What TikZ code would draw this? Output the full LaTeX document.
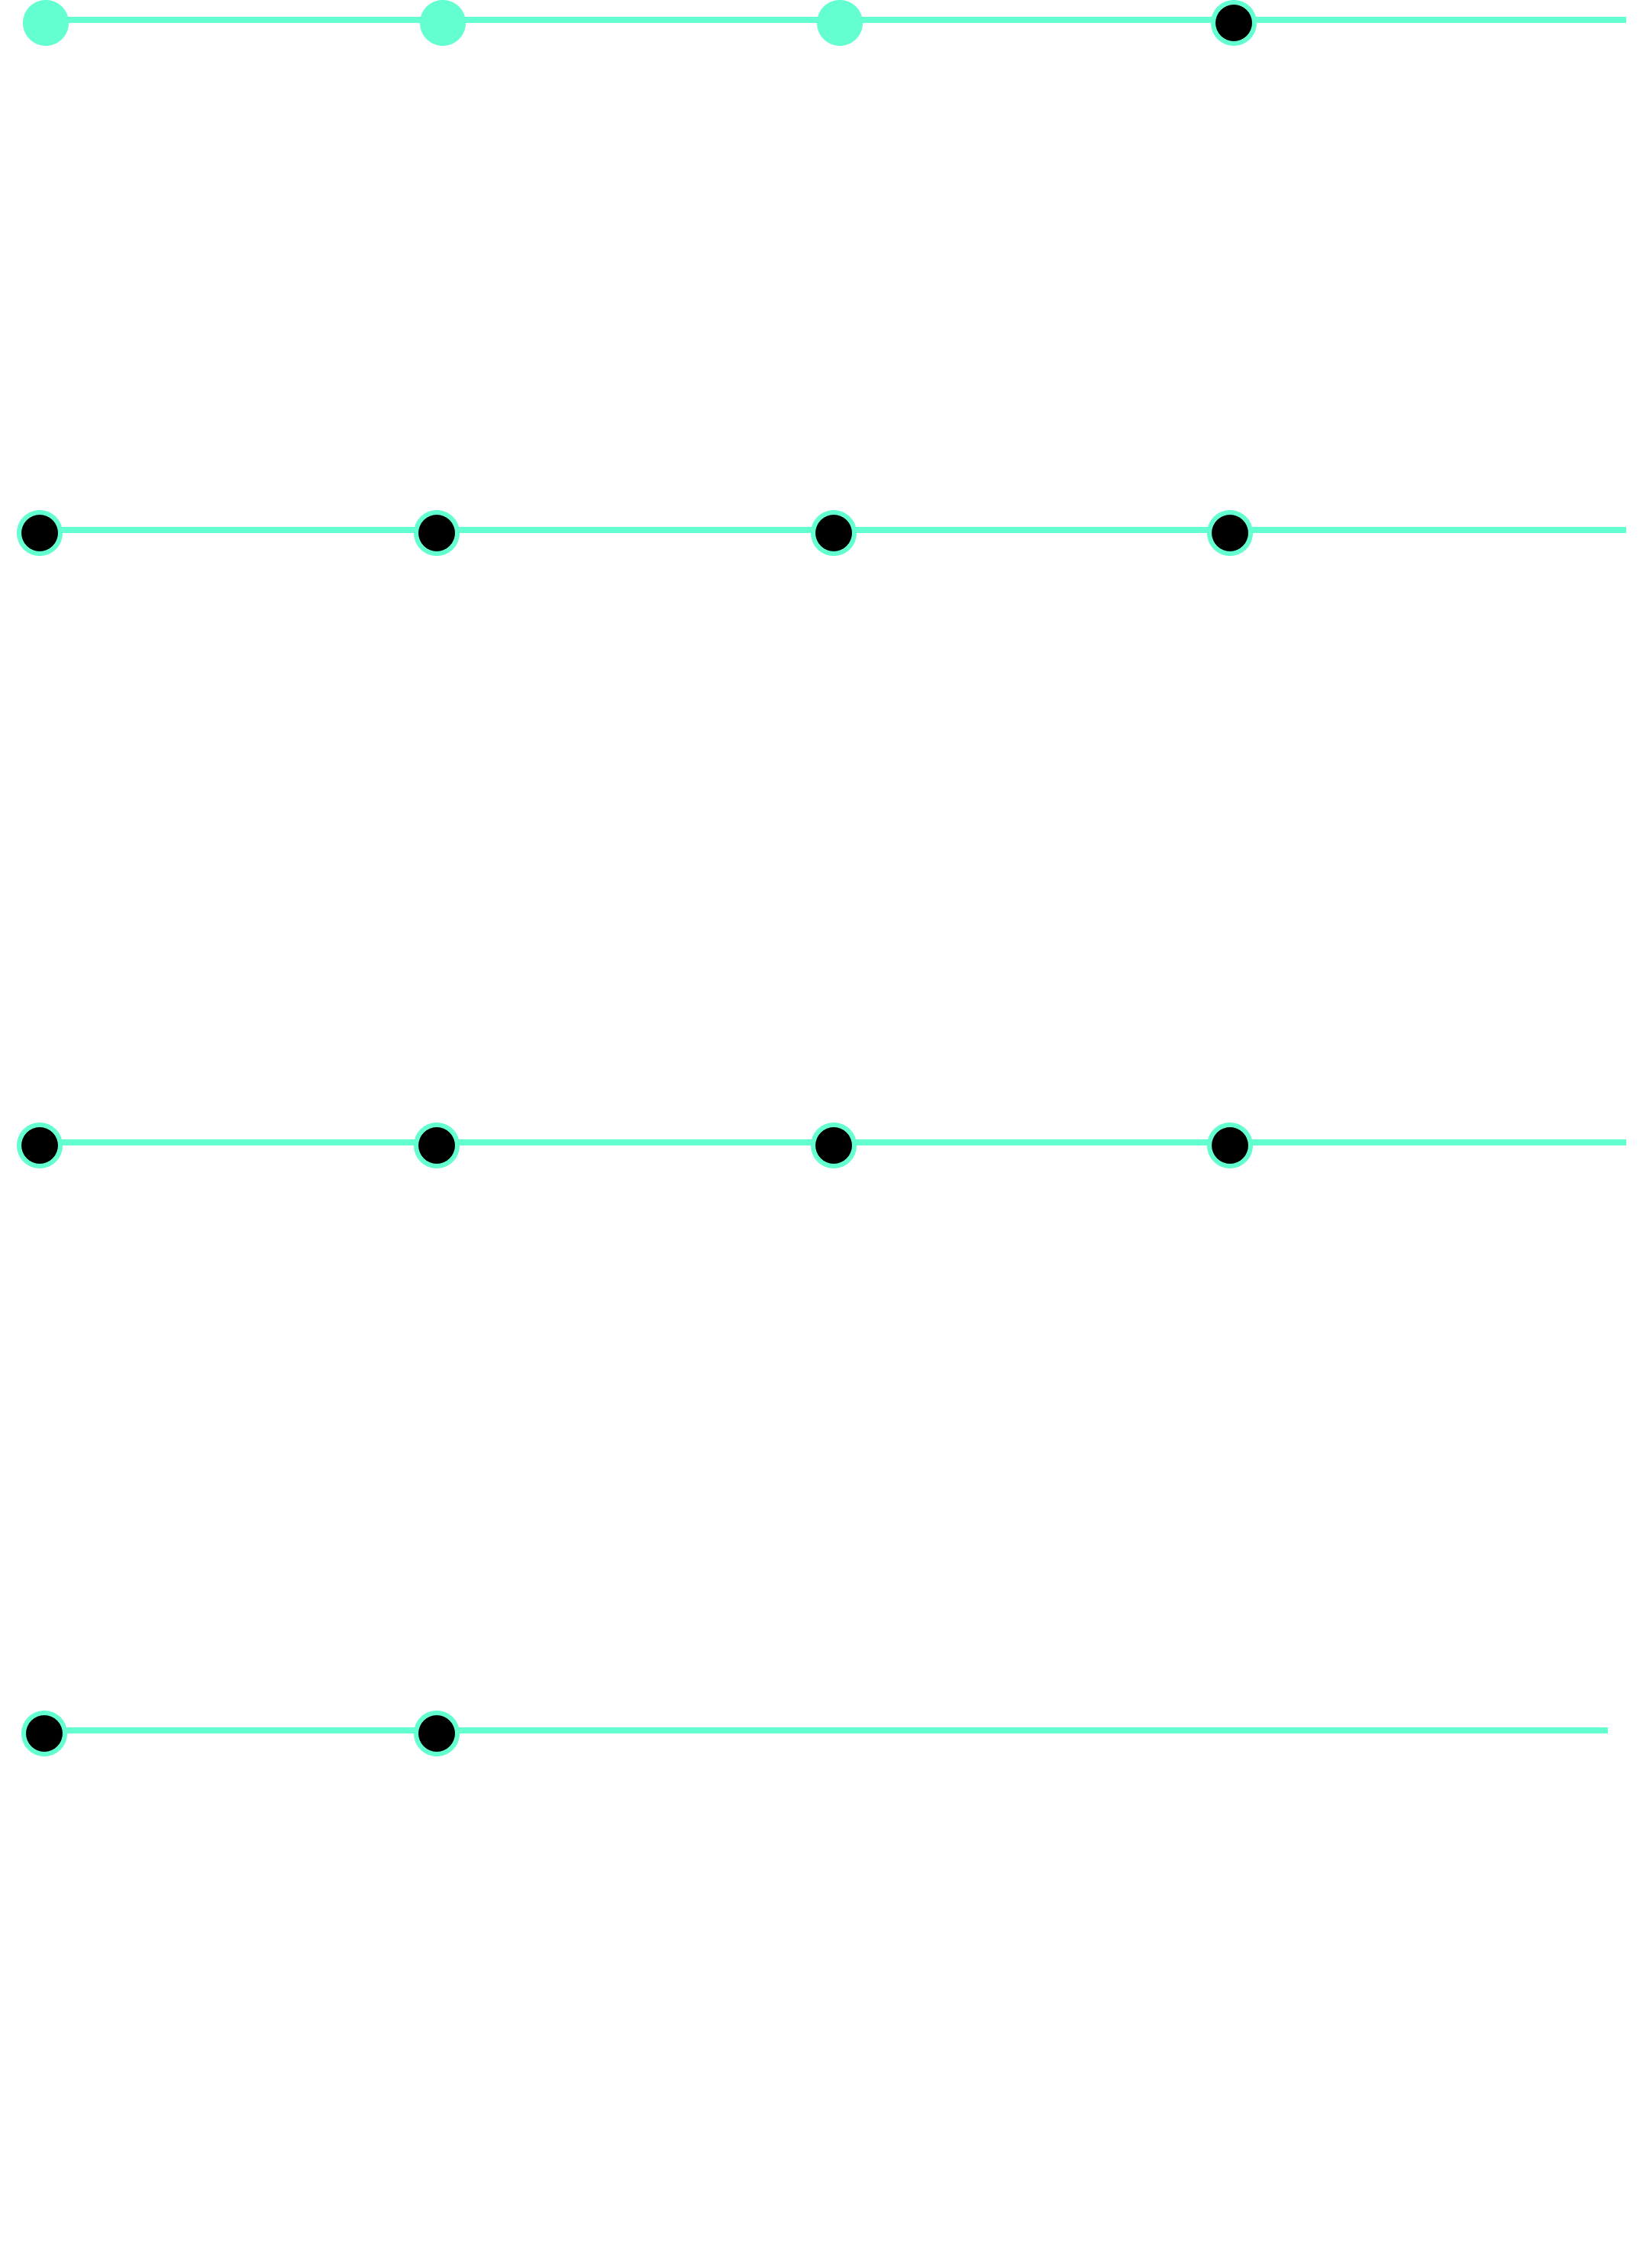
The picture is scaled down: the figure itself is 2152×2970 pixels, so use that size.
\documentclass[tikz,border=0pt]{standalone}
\definecolor{aqua}{RGB}{99,255,209}
\tikzset{
  px/.style={x=0.01cm,y=-0.01cm},
  rail/.style={draw=aqua,line width=0.08cm},
  litdot/.style={circle,fill=aqua,draw=aqua,line width=0.06cm,minimum size=0.54cm,inner sep=0pt},
  darkdot/.style={circle,fill=black,draw=aqua,line width=0.06cm,minimum size=0.54cm,inner sep=0pt}
}
\begin{document}
\begin{tikzpicture}[px]
\path[fill=white] (0,0) rectangle (2152,2970);
\useasboundingbox (0,0) rectangle (2152,2970);
% rail end points
\coordinate (s1) at (60,26);   \coordinate (e1) at (2130,26);
\coordinate (s2) at (52,694);  \coordinate (e2) at (2130,694);
\coordinate (s3) at (52,1496); \coordinate (e3) at (2130,1496);
\coordinate (s4) at (58,2266); \coordinate (e4) at (2106,2266);
\draw[rail] (s1) -- (e1);
\draw[rail] (s2) -- (e2);
\draw[rail] (s3) -- (e3);
\draw[rail] (s4) -- (e4);
% row 1
\node[litdot] (a1) at (60,30) {};
\node[litdot] (a2) at (580,30) {};
\node[litdot] (a3) at (1100,30) {};
\node[darkdot] (a4) at (1616,30) {};
% row 2
\node[darkdot] (b1) at (52,698) {};
\node[darkdot] (b2) at (572,698) {};
\node[darkdot] (b3) at (1092,698) {};
\node[darkdot] (b4) at (1611,698) {};
% row 3
\node[darkdot] (c1) at (52,1500) {};
\node[darkdot] (c2) at (572,1500) {};
\node[darkdot] (c3) at (1092,1500) {};
\node[darkdot] (c4) at (1611,1500) {};
% row 4
\node[darkdot] (d1) at (58,2270) {};
\node[darkdot] (d2) at (572,2270) {};
\end{tikzpicture}
\end{document}
